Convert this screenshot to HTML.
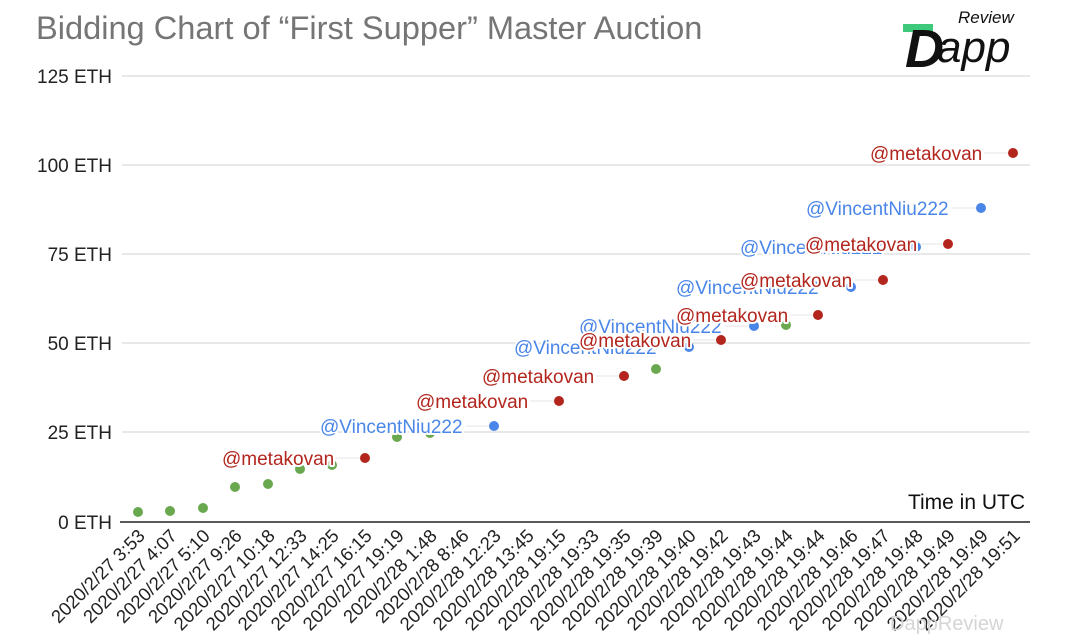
<!DOCTYPE html>
<html><head><meta charset="utf-8"><style>
body{margin:0;background:#fff;}
svg{display:block;font-family:"Liberation Sans",Arial,sans-serif;}
.lab{font-size:19px;paint-order:stroke;stroke:#fff;stroke-width:4px;stroke-linejoin:round;}
.r{fill:#b3261e}.b{fill:#4a86e8}
</style></head><body>
<svg width="1080" height="644" viewBox="0 0 1080 644">
<text x="36" y="39" font-size="32.6" fill="#757575">Bidding Chart of “First Supper” Master Auction</text>
<g>
<rect x="903" y="24" width="30" height="8" fill="#3ec97a"/>
<text x="905" y="67" font-size="54" font-weight="bold" font-style="italic" fill="#111">D</text>
<text x="937" y="62" font-size="44" font-style="italic" fill="#111">app</text>
<text x="958" y="23" font-size="17" font-style="italic" fill="#111">Review</text>
</g>
<g stroke="#d0d0d0" stroke-width="1">
<line x1="122" y1="76" x2="1030" y2="76"/><line x1="122" y1="165" x2="1030" y2="165"/>
<line x1="122" y1="254" x2="1030" y2="254"/><line x1="122" y1="343" x2="1030" y2="343"/>
<line x1="122" y1="432" x2="1030" y2="432"/>
</g>
<line x1="120" y1="522" x2="1030" y2="522" stroke="#222" stroke-width="1.5"/>
<g font-size="19" text-anchor="end" fill="#222">
<text x="112" y="83">125 ETH</text><text x="112" y="172">100 ETH</text>
<text x="112" y="261">75 ETH</text><text x="112" y="350">50 ETH</text>
<text x="112" y="439">25 ETH</text><text x="112" y="529">0 ETH</text>
</g>
<text x="1025" y="509" font-size="21" text-anchor="end" fill="#111">Time in UTC</text>
<g stroke="#e4e4e4" stroke-width="1">
<line x1="335" y1="458" x2="365" y2="458"/><line x1="466" y1="426" x2="494" y2="426"/>
<line x1="530" y1="401" x2="559" y2="401"/><line x1="596" y1="376" x2="624" y2="376"/>
<line x1="660" y1="347" x2="689" y2="347"/><line x1="693" y1="340" x2="721" y2="340"/>
<line x1="725" y1="326" x2="754" y2="326"/><line x1="790" y1="315" x2="818" y2="315"/>
<line x1="822" y1="287" x2="851" y2="287"/><line x1="855" y1="280" x2="883" y2="280"/>
<line x1="919" y1="244" x2="948" y2="244"/><line x1="952" y1="208" x2="981" y2="208"/>
<line x1="984" y1="153" x2="1013" y2="153"/>
</g>
<g fill="#6aa84f">
<circle cx="138" cy="512" r="5"/><circle cx="170" cy="511" r="5"/><circle cx="203" cy="508" r="5"/>
<circle cx="235" cy="487" r="5"/><circle cx="268" cy="484" r="5"/><circle cx="300" cy="469" r="5"/>
<circle cx="332" cy="465" r="5"/><circle cx="397" cy="437" r="5"/><circle cx="430" cy="433" r="5"/>
<circle cx="656" cy="369" r="5"/><circle cx="786" cy="325" r="5"/>
</g>
<g fill="#b3261e">
<circle cx="365" cy="458" r="5"/><circle cx="559" cy="401" r="5"/><circle cx="624" cy="376" r="5"/>
<circle cx="721" cy="340" r="5"/><circle cx="818" cy="315" r="5"/><circle cx="883" cy="280" r="5"/>
<circle cx="948" cy="244" r="5"/><circle cx="1013" cy="153" r="5"/>
</g>
<g fill="#4a86e8">
<circle cx="494" cy="426" r="5"/><circle cx="689" cy="347" r="5"/><circle cx="754" cy="326" r="5"/>
<circle cx="851" cy="287" r="5"/><circle cx="916" cy="247" r="5"/><circle cx="981" cy="208" r="5"/>
</g>
<g class="lab">
<text class="r" x="222" y="465">@metakovan</text>
<text class="b" x="320" y="433">@VincentNiu222</text>
<text class="r" x="416" y="408">@metakovan</text>
<text class="r" x="482" y="383">@metakovan</text>
<text class="b" x="514" y="354">@VincentNiu222</text>
<text class="b" x="579" y="333">@VincentNiu222</text>
<text class="r" x="579" y="347">@metakovan</text>
<text class="b" x="676" y="294">@VincentNiu222</text>
<text class="r" x="676" y="322">@metakovan</text>
<text class="b" x="740" y="254">@VincentNiu222</text>
<text class="r" x="740" y="287">@metakovan</text>
<text class="r" x="805" y="251">@metakovan</text>
<text class="b" x="806" y="215">@VincentNiu222</text>
<text class="r" x="870" y="160">@metakovan</text>
</g>
<g font-size="18.5" fill="#222" text-anchor="end">
<text transform="translate(146,537) rotate(-45)">2020/2/27 3:53</text>
<text transform="translate(178,537) rotate(-45)">2020/2/27 4:07</text>
<text transform="translate(211,537) rotate(-45)">2020/2/27 5:10</text>
<text transform="translate(243,537) rotate(-45)">2020/2/27 9:26</text>
<text transform="translate(276,537) rotate(-45)">2020/2/27 10:18</text>
<text transform="translate(308,537) rotate(-45)">2020/2/27 12:33</text>
<text transform="translate(340,537) rotate(-45)">2020/2/27 14:25</text>
<text transform="translate(373,537) rotate(-45)">2020/2/27 16:15</text>
<text transform="translate(405,537) rotate(-45)">2020/2/27 19:19</text>
<text transform="translate(438,537) rotate(-45)">2020/2/28 1:48</text>
<text transform="translate(470,537) rotate(-45)">2020/2/28 8:46</text>
<text transform="translate(502,537) rotate(-45)">2020/2/28 12:23</text>
<text transform="translate(535,537) rotate(-45)">2020/2/28 13:45</text>
<text transform="translate(567,537) rotate(-45)">2020/2/28 19:15</text>
<text transform="translate(600,537) rotate(-45)">2020/2/28 19:33</text>
<text transform="translate(632,537) rotate(-45)">2020/2/28 19:35</text>
<text transform="translate(664,537) rotate(-45)">2020/2/28 19:39</text>
<text transform="translate(697,537) rotate(-45)">2020/2/28 19:40</text>
<text transform="translate(729,537) rotate(-45)">2020/2/28 19:42</text>
<text transform="translate(762,537) rotate(-45)">2020/2/28 19:43</text>
<text transform="translate(794,537) rotate(-45)">2020/2/28 19:44</text>
<text transform="translate(826,537) rotate(-45)">2020/2/28 19:44</text>
<text transform="translate(859,537) rotate(-45)">2020/2/28 19:46</text>
<text transform="translate(891,537) rotate(-45)">2020/2/28 19:47</text>
<text transform="translate(924,537) rotate(-45)">2020/2/28 19:48</text>
<text transform="translate(956,537) rotate(-45)">2020/2/28 19:49</text>
<text transform="translate(989,537) rotate(-45)">2020/2/28 19:49</text>
<text transform="translate(1021,537) rotate(-45)">2020/2/28 19:51</text>
</g>
<text x="890" y="630" font-size="20" fill="#d5d5d5">DappReview</text>
</svg>
</body></html>
